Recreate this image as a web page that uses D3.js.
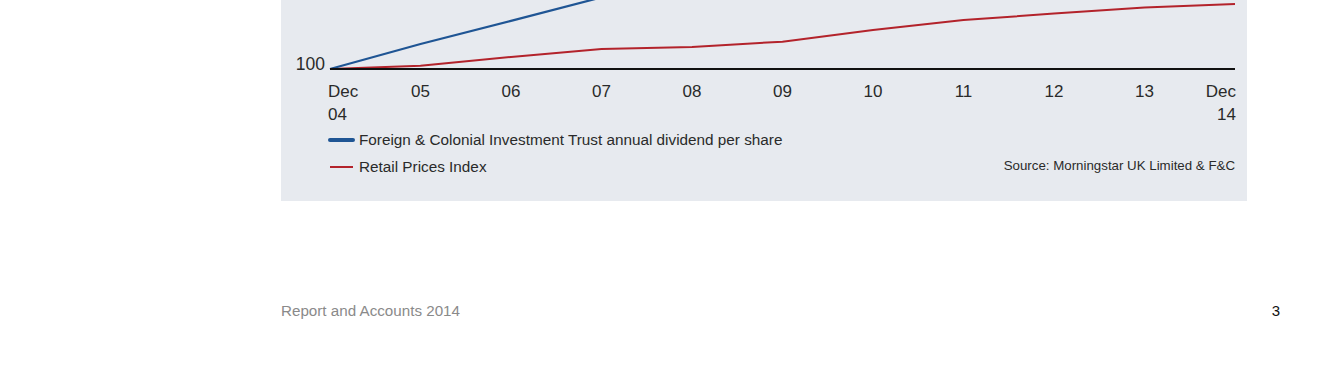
<!DOCTYPE html>
<html><head><meta charset="utf-8">
<script src="https://cdn.jsdelivr.net/npm/d3@7"></script>
<style>
html,body{margin:0;padding:0;background:#fff;}
svg{display:block;}
text{font-family:"Liberation Sans",Arial,sans-serif;}
</style></head>
<body>
<script>
const years = ["Dec 04","05","06","07","08","09","10","11","12","13","Dec 14"];
const dividend = [100, 113.9, 126.7, 139.8, 153, 163, 171, 183, 196, 212, 225];
const rpi = [100, 101.8, 106.7, 111.1, 112.2, 115.2, 121.7, 127.2, 130.8, 134.2, 136.1];
const yTicks = [100];
const seriesNames = ["Foreign & Colonial Investment Trust annual dividend per share", "Retail Prices Index"];
const sourceText = "Source: Morningstar UK Limited & F&C";
const footerText = "Report and Accounts 2014";
const pageNum = "3";

const W = 1343, H = 380;
const svg = d3.select("body").append("svg").attr("width", W).attr("height", H);

// panel
svg.append("rect").attr("x", 281).attr("y", -400).attr("width", 966).attr("height", 601).attr("fill", "#e7eaef");

const x = d3.scalePoint().domain(d3.range(years.length)).range([330, 1235]);
const y = d3.scaleLinear().domain([100, 260]).range([69, 69 - 160 * 1.8]);

const line = d3.line().x((d, i) => x(i)).y(d => y(d));

svg.append("path").datum(rpi).attr("d", line).attr("fill", "none")
  .attr("stroke", "#b3232b").attr("stroke-width", 2);
svg.append("path").datum(dividend).attr("d", line).attr("fill", "none")
  .attr("stroke", "#1f5594").attr("stroke-width", 2.2);

// baseline
svg.append("line").attr("x1", 330).attr("x2", 1235).attr("y1", y(100)).attr("y2", y(100))
  .attr("stroke", "#111").attr("stroke-width", 2);

// y tick label
svg.selectAll(".yt").data(yTicks).enter().append("text")
  .attr("x", 325).attr("y", d => y(d) + 1).attr("text-anchor", "end")
  .attr("font-size", 17.5).attr("fill", "#2a2a2a").text(d => d);

// x tick labels
years.forEach((lab, i) => {
  const parts = lab.split(" ");
  const anchor = i === 0 ? "start" : (i === years.length - 1 ? "end" : "middle");
  const tx = i === 0 ? 328 : (i === years.length - 1 ? 1236 : x(i));
  const t = svg.append("text").attr("x", tx).attr("y", 97).attr("text-anchor", anchor)
    .attr("font-size", 17).attr("fill", "#2a2a2a");
  t.append("tspan").attr("x", tx).attr("dy", 0).text(parts[0]);
  if (parts[1]) t.append("tspan").attr("x", tx).attr("dy", 23).text(parts[1]);
});

// legend
const legColors = ["#1f5594", "#b3232b"];
const legWidths = [4, 2];
seriesNames.forEach((n, i) => {
  const ly = 140 + i * 27;
  svg.append("line").attr("x1", 330).attr("x2", 353).attr("y1", ly).attr("y2", ly)
    .attr("stroke", legColors[i]).attr("stroke-width", legWidths[i]).attr("stroke-linecap", i === 0 ? "round" : "butt");
  svg.append("text").attr("x", 359).attr("y", ly + 5).attr("font-size", 15.3).attr("fill", "#2a2a2a").text(n);
});

svg.append("text").attr("x", 1235).attr("y", 170).attr("text-anchor", "end")
  .attr("font-size", 13.3).attr("fill", "#2a2a2a").text(sourceText);

svg.append("text").attr("x", 281).attr("y", 316).attr("font-size", 15.2).attr("fill", "#8a8a8a").text(footerText);
svg.append("text").attr("x", 1280).attr("y", 316).attr("text-anchor", "end").attr("font-size", 15).attr("fill", "#111").text(pageNum);
</script>
</body></html>
